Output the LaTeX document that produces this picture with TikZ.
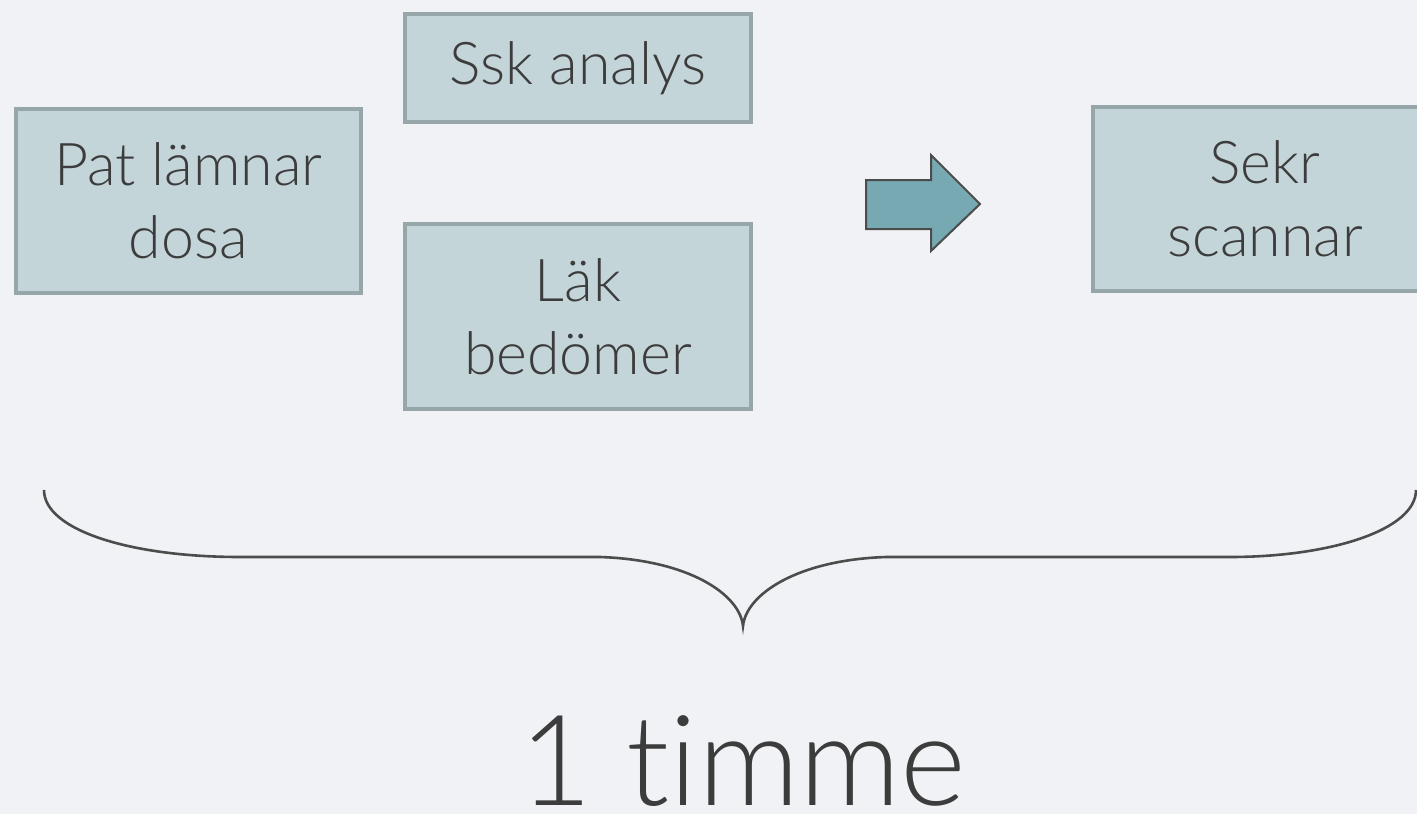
\documentclass[tikz,border=0pt]{standalone}
\usepackage{fontspec}
\setmainfont{Lato Light}[Ligatures=NoCommon]
\definecolor{bg}{HTML}{F1F2F6}
\definecolor{boxfill}{HTML}{C3D5D9}
\definecolor{boxline}{HTML}{97A6A9}
\definecolor{arrowfill}{HTML}{76A9B2}
\definecolor{arrowline}{HTML}{4C4C4C}
\definecolor{ink}{HTML}{3C3C3C}
\tikzset{
  stepbox/.style={draw=boxline, line width=3.8pt, fill=boxfill, text=ink,
    align=center, inner sep=0pt, font=\fontsize{59}{73}\selectfont},
  flowarrow/.style={draw=arrowline, line width=2pt, fill=arrowfill, line join=miter},
  bracket/.style={draw=arrowline, line width=2.6pt},
  caption/.style={text=ink, inner sep=0pt, font=\fontsize{126}{126}\selectfont}
}
\begin{document}
\begin{tikzpicture}[x=1pt,y=-1pt]
\fill[bg] (0,0) rectangle (1417,814);
\useasboundingbox (0,0) rectangle (1417,814);

% process steps
\node[stepbox, minimum width=345, minimum height=184] (pat) at (188.5,201) {Pat lämnar\\dosa};
\node[stepbox, minimum width=346, minimum height=108] (ssk) at (578,68) {Ssk analys};
\node[stepbox, minimum width=346, minimum height=185] (lak) at (578,316.5) {Läk\\bedömer};
\node[stepbox, minimum width=344, minimum height=184] (sekr) at (1265,199) {Sekr\\scannar};

% block arrow between the parallel steps and the final step
\draw[flowarrow] (866,180) -- (931,180) -- (931,155) -- (980,204)
  -- (931,251) -- (931,229) -- (866,229) -- cycle;

% brace spanning all steps
\coordinate (bl) at (44,490);
\coordinate (br) at (1416,490);
\coordinate (tip) at (743,626);
\draw[bracket] (bl) .. controls (44,530) and (130,557) .. (240,557) -- (600,557)
  .. controls (690,560) and (740,595) .. (tip)
  .. controls (746,595) and (796,560) .. (886,557) -- (1230,557)
  .. controls (1330,557) and (1416,530) .. (br);

\node[caption, anchor=base] (time) at (743,805) {1 timme};
\end{tikzpicture}
\end{document}
